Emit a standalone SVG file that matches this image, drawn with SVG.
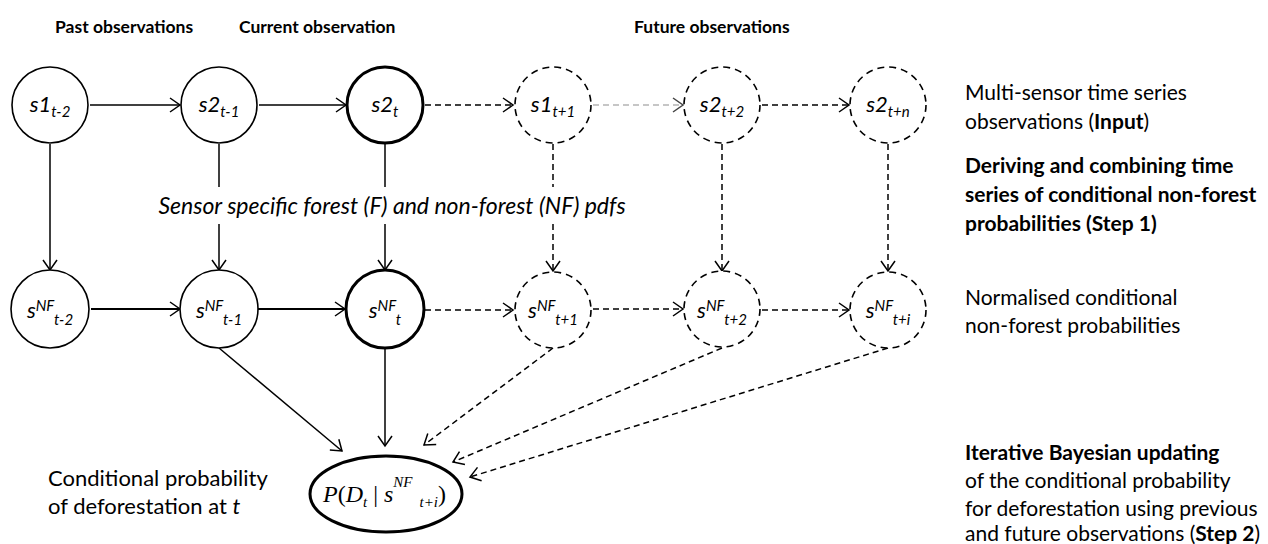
<svg xmlns="http://www.w3.org/2000/svg" width="1268" height="544" viewBox="0 0 1268 544">
<style>
.n{fill:#fff;stroke:#000;stroke-width:1.6}
.b{fill:#fff;stroke:#000;stroke-width:3}
.d{fill:#fff;stroke:#000;stroke-width:1.6;stroke-dasharray:7 5}
.lab{font-family:Lato,"Open Sans",sans-serif;font-style:italic;font-size:22px;text-anchor:middle;fill:#000}
.sm{font-size:15px}
.hdr{font-family:Lato,"Open Sans",sans-serif;font-weight:bold;font-size:17.5px;fill:#000}
.txt{font-family:Lato,"Open Sans",sans-serif;font-size:21px;fill:#000}
.lt{font-size:22px}
.bold{font-weight:bold}
.c line,.c path{fill:none;stroke:#000;stroke-width:1.5}
.c .s2{stroke-width:2}
.c .ds{stroke-dasharray:6 4}
.c .gray{stroke:#b4b4b4}
</style>
<defs>
<marker id="arr" viewBox="0 0 11 14" refX="10" refY="7" markerWidth="11" markerHeight="14" markerUnits="userSpaceOnUse" orient="auto" overflow="visible">
<path d="M0,0 L10,7 L0,14" fill="none" stroke="#000" stroke-width="1.5"/>
</marker>
<marker id="arrg" viewBox="0 0 11 14" refX="10" refY="7" markerWidth="11" markerHeight="14" markerUnits="userSpaceOnUse" orient="auto" overflow="visible">
<path d="M0,0 L10,7 L0,14" fill="none" stroke="#444" stroke-width="1.5"/>
</marker>
</defs>

<g id="headers">
<text class="hdr" x="55" y="33">Past observations</text>
<text class="hdr" x="239" y="33">Current observation</text>
<text class="hdr" x="634" y="33">Future observations</text>
</g>

<g class="c" id="connectors">
<line x1="90" y1="105" x2="180" y2="105" marker-end="url(#arr)"/>
<line x1="259" y1="105" x2="346" y2="105" marker-end="url(#arr)"/>
<line class="ds" x1="425" y1="105" x2="513" y2="105" marker-end="url(#arr)"/>
<line class="ds gray" x1="593" y1="105" x2="683" y2="105" marker-end="url(#arrg)"/>
<line class="ds" x1="762" y1="105" x2="849" y2="105" marker-end="url(#arr)"/>

<line x1="50" y1="144" x2="50" y2="270" marker-end="url(#arr)"/>
<line x1="219" y1="144" x2="219" y2="187"/>
<line x1="219" y1="224" x2="219" y2="270" marker-end="url(#arr)"/>
<line x1="385" y1="144" x2="385" y2="187"/>
<line x1="385" y1="224" x2="385" y2="270" marker-end="url(#arr)"/>
<line class="ds" x1="553" y1="144" x2="553" y2="187"/>
<line class="ds" x1="553" y1="224" x2="553" y2="271" marker-end="url(#arr)"/>
<line class="ds" x1="722" y1="144" x2="722" y2="271" marker-end="url(#arr)"/>
<line class="ds" x1="888" y1="144" x2="888" y2="271" marker-end="url(#arr)"/>

<line class="s2" x1="91" y1="309" x2="180" y2="309" marker-end="url(#arr)"/>
<line class="s2" x1="258" y1="309" x2="345" y2="309" marker-end="url(#arr)"/>
<line class="ds" x1="425" y1="310" x2="513" y2="310" marker-end="url(#arr)"/>
<line class="ds" x1="593" y1="309" x2="683" y2="309" marker-end="url(#arr)"/>
<line class="ds" x1="762" y1="310" x2="849" y2="310" marker-end="url(#arr)"/>

<line x1="219" y1="348" x2="342" y2="451" marker-end="url(#arr)"/>
<line x1="385" y1="349" x2="385" y2="446" marker-end="url(#arr)"/>
<line class="ds" x1="553" y1="348" x2="424" y2="445" marker-end="url(#arr)"/>
<line class="ds" x1="722" y1="348" x2="453" y2="462" marker-end="url(#arr)"/>
<line class="ds" x1="888" y1="348" x2="470" y2="477" marker-end="url(#arr)"/>
</g>

<text class="lab" x="392" y="214" style="font-size:23px">Sensor specific forest (F) and non-forest (NF) pdfs</text>

<g id="s1_tm2"><circle class="n" cx="50" cy="105" r="38"/><text class="lab" x="50" y="112">s1<tspan class="sm" dy="5">t-2</tspan></text></g>
<g id="s2_tm1"><circle class="n" cx="219" cy="105" r="38"/><text class="lab" x="219" y="112">s2<tspan class="sm" dy="5">t-1</tspan></text></g>
<g id="s2_t"><circle class="b" cx="385" cy="105" r="38"/><text class="lab" x="385" y="112">s2<tspan class="sm" dy="5">t</tspan></text></g>
<g id="s1_tp1"><circle class="d" cx="553" cy="105" r="38"/><text class="lab" x="553" y="112">s1<tspan class="sm" dy="5">t+1</tspan></text></g>
<g id="s2_tp2"><circle class="d" cx="722" cy="105" r="38"/><text class="lab" x="722" y="112">s2<tspan class="sm" dy="5">t+2</tspan></text></g>
<g id="s2_tpn"><circle class="d" cx="888" cy="105" r="38"/><text class="lab" x="888" y="112">s2<tspan class="sm" dy="5">t+n</tspan></text></g>

<g id="snf_tm2"><circle class="n" cx="50" cy="309" r="39"/><text class="lab" x="50" y="318">s<tspan class="sm" dy="-7">NF</tspan><tspan class="sm" dy="14">t-2</tspan></text></g>
<g id="snf_tm1"><circle class="n" cx="219" cy="309" r="39"/><text class="lab" x="219" y="318">s<tspan class="sm" dy="-7">NF</tspan><tspan class="sm" dy="14">t-1</tspan></text></g>
<g id="snf_t"><circle class="b" cx="385" cy="309" r="39"/><text class="lab" x="385" y="318">s<tspan class="sm" dy="-7">NF</tspan><tspan class="sm" dy="14">t</tspan></text></g>
<g id="snf_tp1"><circle class="d" cx="553" cy="310" r="38"/><text class="lab" x="553" y="318">s<tspan class="sm" dy="-7">NF</tspan><tspan class="sm" dy="14">t+1</tspan></text></g>
<g id="snf_tp2"><circle class="d" cx="722" cy="309" r="38"/><text class="lab" x="722" y="318">s<tspan class="sm" dy="-7">NF</tspan><tspan class="sm" dy="14">t+2</tspan></text></g>
<g id="snf_tpi"><circle class="d" cx="888" cy="310" r="38"/><text class="lab" x="888" y="318">s<tspan class="sm" dy="-7">NF</tspan><tspan class="sm" dy="14">t+i</tspan></text></g>

<g id="posterior">
<ellipse cx="386" cy="494" rx="76" ry="38" fill="#fff" stroke="#000" stroke-width="3"/>
<text x="323" y="502" font-family="Liberation Serif,serif" font-size="24" fill="#000"><tspan font-style="italic">P</tspan>(<tspan font-style="italic">D</tspan><tspan font-style="italic" font-size="15" dy="5">t</tspan><tspan dy="-5"> | </tspan><tspan font-style="italic">s</tspan><tspan font-style="italic" font-size="15" dy="-15">NF</tspan><tspan font-style="italic" font-size="15" dx="7" dy="20">t+i</tspan><tspan dy="-5">)</tspan></text>
</g>

<g id="notes">
<text class="txt" x="965" y="100">Multi-sensor time series</text>
<text class="txt" x="965" y="129">observations (<tspan class="bold">Input</tspan>)</text>
<text class="txt bold" x="965" y="173">Deriving and combining time</text>
<text class="txt bold" x="965" y="202">series of conditional non-forest</text>
<text class="txt bold" x="965" y="231">probabilities (Step 1)</text>
<text class="txt" x="965" y="305">Normalised conditional</text>
<text class="txt" x="965" y="333">non-forest probabilities</text>
<text class="txt bold" x="965" y="460">Iterative Bayesian updating</text>
<text class="txt" x="965" y="488">of the conditional probability</text>
<text class="txt" x="965" y="516">for deforestation using previous</text>
<text class="txt" x="965" y="541">and future observations (<tspan class="bold">Step 2</tspan>)</text>
<text class="txt lt" x="48" y="486">Conditional probability</text>
<text class="txt lt" x="48" y="514">of deforestation at <tspan font-style="italic">t</tspan></text>
</g>
</svg>
